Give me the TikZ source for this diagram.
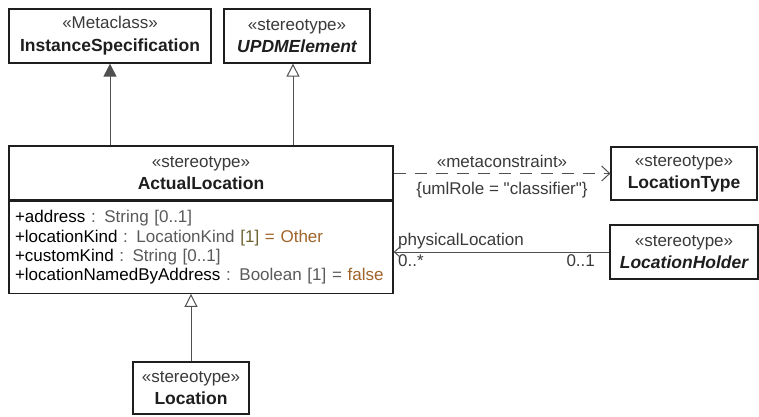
\documentclass[tikz,border=0pt]{standalone}
\usepackage{fontspec}
\setmainfont{Liberation Sans}
\newfontfamily\plainsans{Liberation Sans}
\usepackage{tikz}
\usetikzlibrary{arrows.meta,positioning}

\definecolor{boxline}{HTML}{1E1E1E}
\definecolor{connline}{HTML}{505050}
\definecolor{stereogray}{HTML}{3A3A3A}
\definecolor{typegray}{HTML}{5A5A5A}
\definecolor{multolive}{HTML}{6E6230}
\definecolor{valbrown}{HTML}{A0642A}

\newcommand{\stereo}[1]{{\color{stereogray}«#1»}}
\newcommand{\umlname}[1]{{\fontsize{17.5}{19.3}\selectfont\bfseries\color{boxline}#1}}
\newcommand{\straightq}{{\plainsans"}}

\tikzset{
  umlbox/.style={draw=boxline, line width=1.3pt, fill=white, align=center,
    inner sep=0pt, minimum height=54pt},
  attrbox/.style={draw=boxline, line width=1.3pt, fill=white, align=left,
    inner xsep=6pt, inner ysep=0pt, minimum height=92pt, anchor=north},
  genopen/.style={draw=connline, line width=1pt,
    -{Triangle[open, length=13pt, width=13pt, fill=white]}},
  genfill/.style={draw=connline, line width=1pt,
    -{Triangle[length=13pt, width=13pt, fill=connline]}},
  depline/.style={draw=connline, line width=1pt, dash pattern=on 12pt off 9pt,
    -{Straight Barb[length=8pt, width=15pt]}},
  assocline/.style={draw=connline, line width=1pt,
    -{Straight Barb[length=5pt, width=9pt]}},
  lbl/.style={inner sep=2pt, text=stereogray}
}

\begin{document}
\begin{tikzpicture}[x=1pt, y=-1pt, font=\fontsize{17}{19.3}\selectfont]
    \useasboundingbox (0,0) rectangle (759,416);
    % classes
    \node[umlbox, minimum width=202pt] (inst) at (110,36)
      {\stereo{Metaclass}\\[3.5pt]\umlname{InstanceSpecification}};
    \node[umlbox, minimum width=146pt] (updm) at (297,36)
      {\stereo{stereotype}\\[3.5pt]\umlname{\itshape UPDMElement}};
    \node[umlbox, minimum width=384pt] (actual) at (201,173)
      {\stereo{stereotype}\\[2pt]\umlname{ActualLocation}};
    \node[attrbox, minimum width=384pt, text width=372pt, below=0pt of actual] (actualattr)
      {+address {\color{typegray}: String [0..1]}\\
       +locationKind {\color{typegray}: LocationKind} {\color{multolive}[1]} {\color{valbrown}= Other}\\
       +customKind {\color{typegray}: String [0..1]}\\
       +locationNamedByAddress {\color{typegray}: Boolean [1] =} {\color{valbrown}false}};
    \node[umlbox, minimum width=146pt, minimum height=53pt] (loctype) at (684,173.5)
      {\stereo{stereotype}\\[3pt]\umlname{LocationType}};
    \node[umlbox, minimum width=148pt] (holder) at (684,252)
      {\stereo{stereotype}\\[3pt]\umlname{\itshape LocationHolder}};
    \node[umlbox, minimum width=116pt, minimum height=52pt] (location) at (191,388)
      {\stereo{stereotype}\\[3.5pt]\umlname{Location}};
    % generalizations
    \draw[genfill] (inst.south |- actual.north) -- (inst.south);
    \draw[genopen] ([xshift=-4pt]updm.south |- actual.north) -- ([xshift=-4pt]updm.south);
    \draw[genopen] (location.north) -- (location.north |- actualattr.south);
    % metaconstraint
    \draw[depline] (actual.east |- loctype.west) -- (loctype.west)
      node[lbl, midway, above=3pt] {«metaconstraint»}
      node[lbl, midway, below=6pt] {\{umlRole = \straightq classifier\straightq\}};
    % association
    \draw[assocline] (holder.west) -- (holder.west -| actualattr.east)
      node[lbl, pos=1, above right=0pt and 2pt] {physicalLocation}
      node[lbl, pos=1, below right=0pt and 2pt] {0..*}
      node[lbl, pos=0, below left=0pt and 12pt] {0..1};
\end{tikzpicture}
\end{document}
